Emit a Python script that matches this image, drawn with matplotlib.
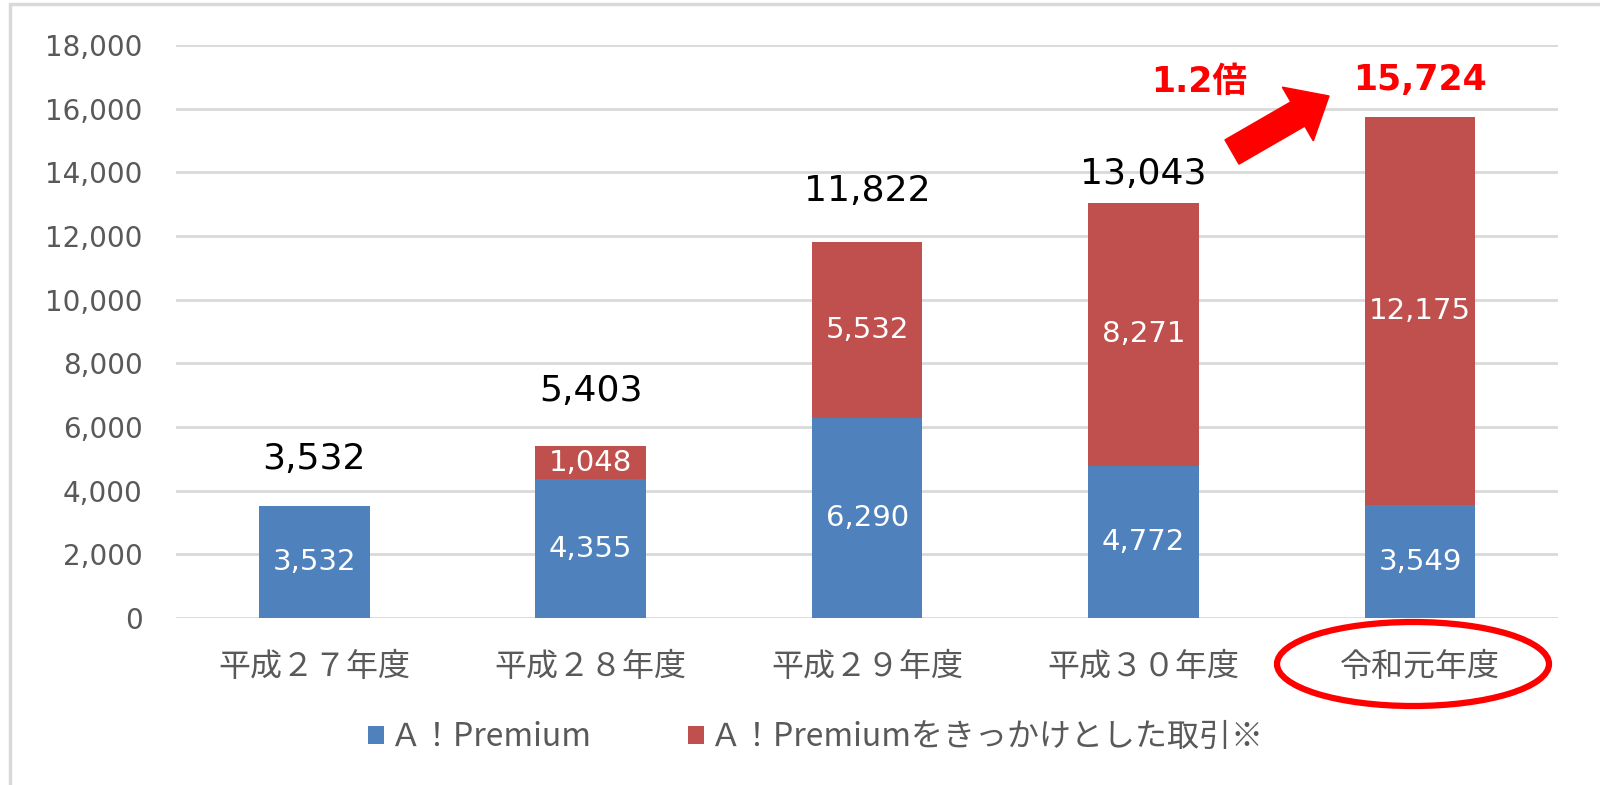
import matplotlib.pyplot as plt
from matplotlib.patches import Ellipse, Rectangle, FancyArrow

plt.rcParams['font.family'] = ['Noto Sans CJK JP', 'DejaVu Sans']

years = ['平成２７年度', '平成２８年度', '平成２９年度', '平成３０年度', '令和元年度']
premium = [3532, 4355, 6290, 4772, 3549]
triggered = [0, 1048, 5532, 8271, 12175]
totals = [3532, 5403, 11822, 13043, 15724]
series_names = ['Ａ！Premium', 'Ａ！Premiumをきっかけとした取引※']
ratio_text = '1.2倍'

blue = '#4F81BD'
red = '#C0504D'
grey = '#595959'

fig = plt.figure(figsize=(16, 7.85), dpi=100)
fig.patches.append(Rectangle((0.006, -0.1), 1.2, 1.095, transform=fig.transFigure,
                             fill=False, edgecolor='#D9D9D9', linewidth=2.5))
ax = fig.add_axes([0.110, 0.2127, 0.864, 0.730])

x = range(len(years))
ax.bar(x, premium, width=0.4, color=blue, zorder=3, label=series_names[0])
ax.bar(x, triggered, width=0.4, bottom=premium, color=red, zorder=3, label=series_names[1])

ax.set_xlim(-0.5, 4.5)
ax.set_ylim(0, 18000)
ax.set_yticks(range(0, 18001, 2000))
ax.set_yticklabels([f'{v:,}' for v in range(0, 18001, 2000)], family='DejaVu Sans')
ax.yaxis.grid(True, color='#D9D9D9', linewidth=2, zorder=0)
ax.set_axisbelow(True)
for s in ax.spines.values():
    s.set_visible(False)
ax.tick_params(axis='y', length=0, labelsize=20, labelcolor=grey, pad=24)
ax.tick_params(axis='x', length=0, labelsize=23, labelcolor=grey, pad=24)
ax.set_xticks(list(x))
ax.set_xticklabels(years)

# inner labels
for i in x:
    ax.text(i, premium[i] / 2, f'{premium[i]:,}', ha='center', va='center',
            color='white', fontsize=21, family='DejaVu Sans', zorder=4)
    if triggered[i]:
        ax.text(i, premium[i] + triggered[i] / 2, f'{triggered[i]:,}', ha='center',
                va='center', color='white', fontsize=21, family='DejaVu Sans', zorder=4)

# total labels
offsets = [47, 55, 51, 29, 37]
for i in x:
    last = i == len(years) - 1
    ax.annotate(f'{totals[i]:,}', (i, totals[i]), xytext=(0, offsets[i]),
                textcoords='offset pixels', ha='center', va='center',
                fontsize=26 if not last else 25,
                color='red' if last else 'black',
                fontweight='bold' if last else 'normal',
                family='DejaVu Sans')

# 1.2x annotation and arrow
fig.text(1199 / 1600, 1 - 82 / 785, ratio_text, ha='center', va='center',
         color='red', fontsize=25, fontweight='bold', family=['DejaVu Sans', 'Noto Sans CJK JP'])
fig.patches.append(FancyArrow(12.32, 6.33, 0.97, 0.56,
                              width=0.28, head_width=0.62, head_length=0.36,
                              length_includes_head=True, color='red',
                              transform=fig.dpi_scale_trans))

# ellipse around last category
fig.patches.append(Ellipse((1413 / 1600, 1 - 664 / 785), 272 / 1600, 84 / 785,
                           transform=fig.transFigure, fill=False,
                           edgecolor='red', linewidth=4.5))

leg = fig.legend(loc='center', bbox_to_anchor=(0.51, 1 - 737 / 785), ncol=2,
                 frameon=False, fontsize=23, handlelength=0.5, handleheight=0.5,
                 handletextpad=0.2, columnspacing=3.0)
for t in leg.get_texts():
    t.set_color(grey)

fig.savefig('out.png', dpi=100)
